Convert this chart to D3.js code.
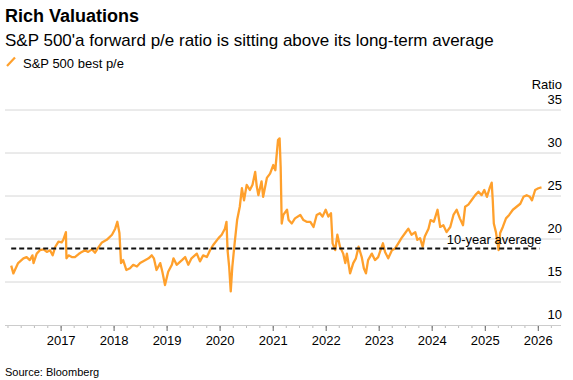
<!DOCTYPE html>
<html>
<head>
<meta charset="utf-8">
<script src="https://cdn.jsdelivr.net/npm/d3@7"></script>
<style>
  html, body { margin: 0; padding: 0; background: #fff; }
  svg { display: block; font-family: "Liberation Sans", Arial, sans-serif; }
</style>
</head>
<body>
<svg id="chart" width="573" height="380"></svg>
<script>
// ---- Data ----
// time as decimal years
const dates = [
  2016.07, 2016.11, 2016.14, 2016.20, 2016.30, 2016.36, 2016.42, 2016.47, 2016.49, 2016.55,
  2016.61, 2016.68, 2016.74, 2016.80, 2016.85, 2016.90, 2016.96, 2017.02, 2017.05, 2017.10,
  2017.11, 2017.15, 2017.21, 2017.27, 2017.34, 2017.40, 2017.46, 2017.52, 2017.59, 2017.65,
  2017.71, 2017.78, 2017.87, 2017.97, 2018.03, 2018.07, 2018.11, 2018.14, 2018.18, 2018.24,
  2018.31, 2018.37, 2018.44, 2018.50, 2018.56, 2018.66, 2018.72, 2018.76, 2018.81, 2018.88,
  2018.92, 2018.97, 2019.03, 2019.10, 2019.13, 2019.19, 2019.29, 2019.35, 2019.41, 2019.47,
  2019.57, 2019.63, 2019.69, 2019.76, 2019.82, 2019.88, 2019.98, 2020.04, 2020.10, 2020.13,
  2020.15, 2020.18, 2020.21, 2020.24, 2020.29, 2020.33, 2020.38, 2020.42, 2020.46, 2020.51,
  2020.57, 2020.62, 2020.67, 2020.70, 2020.73, 2020.79, 2020.82, 2020.89, 2020.95, 2021.01,
  2021.05, 2021.06, 2021.10, 2021.13, 2021.15, 2021.17, 2021.20, 2021.27, 2021.30, 2021.36,
  2021.42, 2021.52, 2021.58, 2021.64, 2021.71, 2021.77, 2021.83, 2021.89, 2021.94, 2022.00,
  2022.05, 2022.10, 2022.13, 2022.18, 2022.22, 2022.27, 2022.33, 2022.37, 2022.40, 2022.46,
  2022.52, 2022.57, 2022.62, 2022.68, 2022.72, 2022.76, 2022.80, 2022.87, 2022.93, 2022.99,
  2023.08, 2023.12, 2023.18, 2023.25, 2023.31, 2023.37, 2023.43, 2023.50, 2023.56, 2023.62,
  2023.69, 2023.73, 2023.78, 2023.83, 2023.87, 2023.94, 2023.98, 2024.04, 2024.11, 2024.16,
  2024.22, 2024.28, 2024.35, 2024.41, 2024.47, 2024.53, 2024.59, 2024.63, 2024.69, 2024.75,
  2024.82, 2024.88, 2024.94, 2024.99, 2025.04, 2025.09, 2025.13, 2025.15, 2025.17, 2025.21,
  2025.26, 2025.29, 2025.34, 2025.40, 2025.46, 2025.53, 2025.60, 2025.67, 2025.73, 2025.79,
  2025.85, 2025.89, 2025.95, 2026.01, 2026.07
];
const peRatio = [
  16.9, 16.0, 16.4, 17.2, 17.75, 17.9, 17.55, 18.1, 17.2, 18.3,
  18.7, 18.8, 18.5, 18.7, 18.1, 19.1, 19.7, 19.6, 19.9, 20.8,
  17.75, 18.1, 17.9, 17.9, 18.25, 18.5, 18.7, 18.5, 18.8, 18.4,
  19.0, 19.6, 19.9, 20.5, 21.2, 22.0, 20.7, 17.2, 17.55, 16.4,
  16.6, 17.0, 16.8, 17.2, 17.4, 17.75, 18.1, 17.75, 16.4, 17.2,
  16.2, 14.65, 16.2, 17.0, 17.75, 17.0, 17.55, 17.9, 17.0, 17.75,
  18.3, 17.4, 18.1, 17.9, 18.7, 19.3, 20.1, 20.5, 21.2, 22.0,
  18.7, 16.8, 13.9, 16.8, 19.9, 22.2, 23.75, 25.9, 24.5, 26.3,
  25.7, 26.3, 27.8, 26.1, 25.1, 26.7, 24.9, 27.1, 27.6, 28.6,
  28.0, 28.8, 31.5, 31.7, 28.4, 21.8, 22.8, 23.4, 22.2, 21.8,
  22.4, 22.8, 22.2, 22.0, 22.0, 21.4, 22.8, 23.0, 22.6, 23.4,
  22.6, 23.0, 19.5, 18.7, 20.5, 19.1, 18.3, 17.2, 18.3, 16.0,
  17.2, 17.75, 19.1, 17.9, 16.6, 16.0, 17.55, 18.3, 17.55, 17.9,
  19.5, 18.5, 17.75, 18.7, 18.9, 19.5, 20.1, 20.7, 21.2, 20.5,
  20.8, 19.9, 20.1, 19.1, 20.3, 21.2, 22.2, 22.0, 23.4, 21.4,
  21.6, 20.8, 21.4, 22.8, 23.4, 22.4, 21.6, 23.75, 24.0, 24.5,
  25.1, 25.5, 25.1, 25.7, 24.9, 25.9, 26.55, 24.5, 21.8, 20.8,
  18.7, 20.7, 21.4, 22.4, 22.8, 23.4, 23.75, 24.1, 24.9, 25.1,
  24.9, 24.5, 25.7, 25.9, 26.0
];
const averageValue = 18.9;
const averageLabel = "10-year average";
const yTicks = [10, 15, 20, 25, 30, 35];
const yearTicks = [2017, 2018, 2019, 2020, 2021, 2022, 2023, 2024, 2025, 2026];
const xDomainYears = [2015.953, 2026.438];
const titleText = "Rich Valuations";
const subtitleText = "S&P 500'a forward p/e ratio is sitting above its long-term average";
const legendText = "S&P 500 best p/e";
const unitText = "Ratio";
const sourceText = "Source: Bloomberg";

// ---- helpers ----
function toDate(t) {
  const y = Math.floor(t);
  const s = new Date(y, 0, 1), e = new Date(y + 1, 0, 1);
  return new Date(+s + (t - y) * (e - s));
}
const series = dates.map((d, i) => ({ date: toDate(d), value: peRatio[i] }));

const ORANGE = "#ffa02c";
const svg = d3.select("#chart");

const x = d3.scaleTime().domain(xDomainYears.map(toDate)).range([5, 561]);
const y = d3.scaleLinear().domain([10, 35]).range([325, 110]);

// Titles
svg.append("text").attr("x", 5).attr("y", 22)
  .attr("font-size", 18).attr("font-weight", "bold").attr("fill", "#000")
  .text(titleText);
svg.append("text").attr("x", 5).attr("y", 46)
  .attr("font-size", 17).attr("fill", "#000").text(subtitleText);

// Legend
svg.append("line").attr("x1", 7).attr("y1", 66).attr("x2", 15).attr("y2", 57.5)
  .attr("stroke", ORANGE).attr("stroke-width", 2.2);
svg.append("text").attr("x", 23).attr("y", 67.5)
  .attr("font-size", 13).attr("fill", "#000").text(legendText);

// Gridlines
svg.append("g").selectAll("line")
  .data(yTicks.filter(d => d > 10))
  .join("line")
  .attr("x1", 5).attr("x2", 561)
  .attr("y1", d => y(d)).attr("y2", d => y(d))
  .attr("stroke", "#d6d6d6").attr("stroke-width", 1);

// Y labels (above gridlines, right aligned)
svg.append("g").selectAll("text")
  .data(yTicks)
  .join("text")
  .attr("x", 562).attr("y", d => y(d) - 6)
  .attr("text-anchor", "end").attr("font-size", 13).attr("fill", "#000")
  .text(d => d);
svg.append("text").attr("x", 562).attr("y", y(35) - 21)
  .attr("text-anchor", "end").attr("font-size", 13).attr("fill", "#000")
  .text(unitText);

// X axis: minor quarterly ticks
const quarters = d3.timeMonth.every(3).range(x.domain()[0], x.domain()[1]);
const xMinor = d3.axisBottom(x).tickValues(quarters).tickSize(3).tickFormat("");
const gMinor = svg.append("g").attr("transform", "translate(0,325)").call(xMinor);
gMinor.select(".domain").remove();
gMinor.selectAll("line").attr("stroke", "#bbb");

const xMajor = d3.axisBottom(x)
  .tickValues(yearTicks.map(t => new Date(t, 0, 1)))
  .tickSize(6).tickPadding(5)
  .tickFormat(d3.timeFormat("%Y"));
const gMajor = svg.append("g").attr("transform", "translate(0,325)").call(xMajor);
gMajor.select(".domain").remove();
gMajor.selectAll("line").attr("stroke", "#666");
gMajor.selectAll("text").attr("font-size", 13).attr("fill", "#000")
  .attr("font-family", "Liberation Sans, Arial, sans-serif");

// axis baseline
svg.append("line").attr("x1", 5).attr("x2", 561)
  .attr("y1", y(10) + 0.5).attr("y2", y(10) + 0.5)
  .attr("stroke", "#ccc").attr("stroke-width", 1);

// Data line
const line = d3.line().x(d => x(d.date)).y(d => y(d.value)).curve(d3.curveLinear);
svg.append("path").datum(series)
  .attr("d", line).attr("fill", "none")
  .attr("stroke", ORANGE).attr("stroke-width", 2.3)
  .attr("stroke-linejoin", "round");

// Average line
svg.append("line")
  .attr("x1", x(series[0].date)).attr("x2", x(series[series.length - 1].date) - 2)
  .attr("y1", y(averageValue)).attr("y2", y(averageValue))
  .attr("stroke", "#111").attr("stroke-width", 2)
  .attr("stroke-dasharray", "5,3");
svg.append("text")
  .attr("x", x(series[series.length - 1].date)).attr("y", y(averageValue) - 4)
  .attr("text-anchor", "end").attr("font-size", 13).attr("fill", "#000")
  .text(averageLabel);

// Source
svg.append("text").attr("x", 5).attr("y", 376)
  .attr("font-size", 11).attr("fill", "#000").text(sourceText);
</script>
</body>
</html>
